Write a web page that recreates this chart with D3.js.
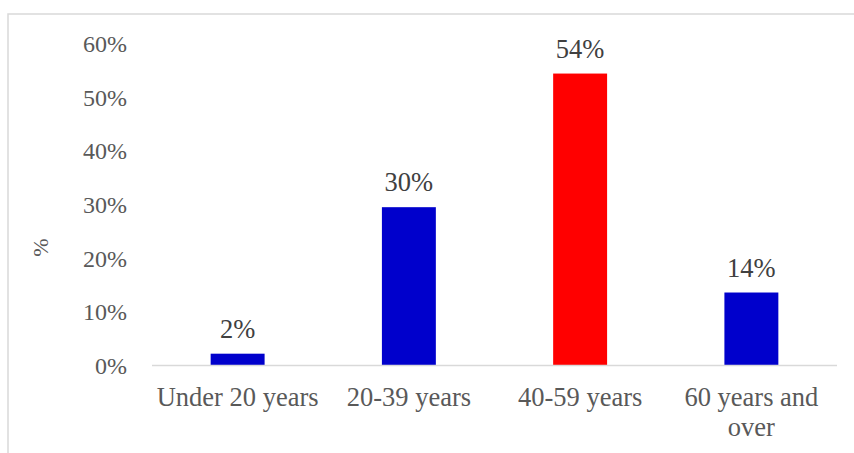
<!DOCTYPE html>
<html>
<head>
<meta charset="utf-8">
<script src="https://cdn.jsdelivr.net/npm/d3@7"></script>
<style>
  html, body { margin: 0; padding: 0; background: #fff; }
  svg { display: block; }
  svg text { font-family: "Liberation Serif", "Times New Roman", serif !important; }
</style>
</head>
<body>
<div id="chart"></div>
<script>
// ---- data ----
const categories = ["Under 20 years", "20-39 years", "40-59 years", "60 years and over"];
const values = [0.022, 0.295, 0.544, 0.136];
const dataLabels = ["2%", "30%", "54%", "14%"];
const barColors = ["#0000CC", "#0000CC", "#FF0000", "#0000CC"];
const yTicks = [0, 0.1, 0.2, 0.3, 0.4, 0.5, 0.6];
const yAxisTitle = "%";

// ---- layout ----
const W = 854, H = 453;
const FONT = "'Liberation Serif', 'Times New Roman', serif";
const svg = d3.select("#chart").append("svg").attr("width", W).attr("height", H);

// outer chart frame
svg.append("rect")
  .attr("x", 8).attr("y", 14)
  .attr("width", W + 20).attr("height", H + 20)
  .attr("fill", "none").attr("stroke", "#d9d9d9").attr("stroke-width", 1.5);

const plotLeft = 152, plotRight = 837, plotTop = 43.5, plotBottom = 365.5;

const x = d3.scaleBand()
  .domain(categories)
  .range([plotLeft, plotRight])
  .paddingInner(0.685)
  .paddingOuter(0.3425);

const y = d3.scaleLinear().domain([0, 0.6]).range([plotBottom, plotTop]);

// y axis (labels only)
const yAxis = d3.axisLeft(y)
  .tickValues(yTicks)
  .tickFormat(d3.format(".0%"))
  .tickSize(0)
  .tickPadding(0);
const gy = svg.append("g").attr("transform", `translate(127,0)`).call(yAxis);
gy.attr("font-family", null).attr("font-size", null);
gy.select(".domain").remove();
gy.selectAll("text")
  .attr("fill", "#595959")
  .style("font-size", "24px")
  .style("font-family", FONT)
  .attr("dy", "0.33em");

// bars
svg.append("g").selectAll("rect")
  .data(values)
  .join("rect")
  .attr("x", (d, i) => x(categories[i]))
  .attr("y", d => y(d))
  .attr("width", x.bandwidth())
  .attr("height", d => y(0) - y(d))
  .attr("fill", (d, i) => barColors[i]);

// x axis baseline
const xAxis = d3.axisBottom(x).tickSize(0).tickPadding(0).tickFormat("");
const gx = svg.append("g").attr("transform", `translate(0,${plotBottom})`).call(xAxis);
gx.select(".domain").attr("stroke", "#d9d9d9").attr("stroke-width", 1.5)
  .attr("d", `M${plotLeft},0H${plotRight}`);

// category labels (wrapped)
const wrapMap = {"60 years and over": ["60 years and", "over"]};
const catG = svg.append("g");
categories.forEach(c => {
  const lines = wrapMap[c] || [c];
  const t = catG.append("text")
    .attr("x", x(c) + x.bandwidth() / 2)
    .attr("y", 406)
    .attr("text-anchor", "middle")
    .style("font-size", "26.5px")
    .style("font-family", FONT)
    .attr("fill", "#595959");
  lines.forEach((l, i) => {
    t.append("tspan").attr("x", x(c) + x.bandwidth() / 2).attr("dy", i === 0 ? 0 : 30).text(l);
  });
});

// data labels
svg.append("g").selectAll("text")
  .data(values)
  .join("text")
  .attr("x", (d, i) => x(categories[i]) + x.bandwidth() / 2)
  .attr("y", d => y(d) - 16)
  .attr("text-anchor", "middle")
  .style("font-size", "26.5px")
  .style("font-family", FONT)
  .attr("fill", "#404040")
  .text((d, i) => dataLabels[i]);

// y axis title
svg.append("text")
  .attr("transform", `translate(48,${(plotTop + plotBottom) / 2 + 43}) rotate(-90)`)
  .attr("text-anchor", "middle")
  .style("font-size", "22px")
  .style("font-family", FONT)
  .attr("fill", "#595959")
  .text(yAxisTitle);
</script>
</body>
</html>
